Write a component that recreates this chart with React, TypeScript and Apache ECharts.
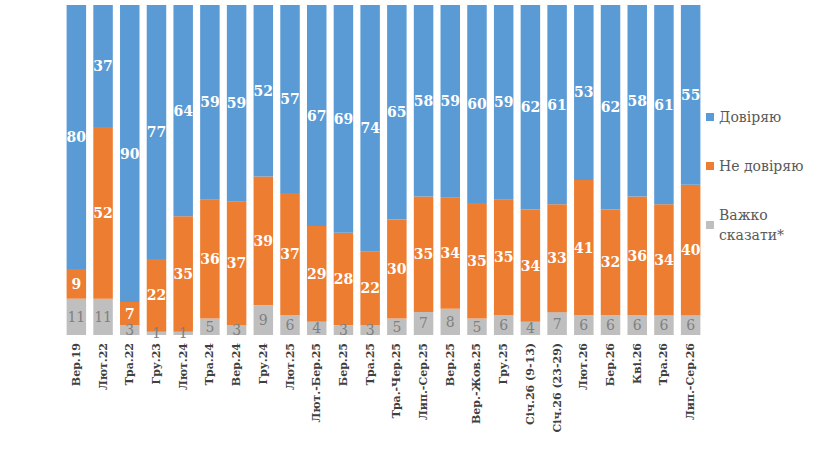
import * as echarts from 'echarts';
import { useEffect, useRef } from 'react';

const categories = [
  'Вер.19', 'Лют.22', 'Тра.22', 'Гру.23', 'Лют.24', 'Тра.24', 'Вер.24', 'Гру.24',
  'Лют.25', 'Лют.-Бер.25', 'Бер.25', 'Тра.25', 'Тра.-Чер.25', 'Лип.-Сер.25', 'Вер.25',
  'Вер.-Жов.25', 'Гру.25', 'Січ.26 (9-13)', 'Січ.26 (23-29)', 'Лют.26', 'Бер.26',
  'Кві.26', 'Тра.26', 'Лип.-Сер.26',
];

const hardToSay = [11, 11, 3, 1, 1, 5, 3, 9, 6, 4, 3, 3, 5, 7, 8, 5, 6, 4, 7, 6, 6, 6, 6, 6];
const distrust = [9, 52, 7, 22, 35, 36, 37, 39, 37, 29, 28, 22, 30, 35, 34, 35, 35, 34, 33, 41, 32, 36, 34, 40];
const trust = [80, 37, 90, 77, 64, 59, 59, 52, 57, 67, 69, 74, 65, 58, 59, 60, 59, 62, 61, 53, 62, 58, 61, 55];

const seriesNames = ['Важко сказати*', 'Не довіряю', 'Довіряю'];
const seriesColors = ['#BFBFBF', '#ED7D31', '#5B9BD5'];

const FONT = 'DejaVu Serif';

const App = () => {
  const chartRef = useRef(null);

  useEffect(() => {
    document.body.style.margin = '0';
    const chart = echarts.init(chartRef.current, null, { renderer: 'svg' });

    const raw = [hardToSay, distrust, trust];
    // 100% stacked: each column scaled to its own total
    const totals = categories.map((_, i) => raw.reduce((s, arr) => s + arr[i], 0));

    const series = raw.map((arr, k) => ({
      name: seriesNames[k],
      type: 'bar',
      stack: 'total',
      barCategoryGap: '27%',
      data: arr.map((v, i) => (v / totals[i]) * 100),
      itemStyle: { color: seriesColors[k] },
      label: {
        show: true,
        position: 'inside',
        formatter: (p: any) => String(arr[p.dataIndex]),
        fontFamily: FONT,
        fontSize: 14,
        fontWeight: k === 0 ? 'normal' : 'bold',
        color: k === 0 ? '#808080' : '#ffffff',
      },
    }));

    chart.setOption({
      animation: false,
      textStyle: { fontFamily: FONT },
      grid: { left: 63, right: 133, top: 5, bottom: 115 },
      xAxis: {
        type: 'category',
        data: categories,
        axisLine: { show: false },
        axisTick: { show: false },
        axisLabel: {
          rotate: 90,
          interval: 0,
          margin: 8,
          fontFamily: FONT,
          fontSize: 11,
          fontWeight: 'bold',
          color: '#404040',
        },
      },
      yAxis: {
        type: 'value',
        min: 0,
        max: 100,
        show: false,
        splitLine: { show: false },
      },
      legend: {
        orient: 'vertical',
        left: 706,
        top: 107,
        padding: 0,
        itemWidth: 8,
        itemHeight: 8,
        itemGap: 29,
        icon: 'rect',
        data: ['Довіряю', 'Не довіряю', 'Важко сказати*'],
        formatter: (name: string) => (name === 'Важко сказати*' ? 'Важко\nсказати*' : name),
        textStyle: {
          fontFamily: FONT,
          fontSize: 14,
          color: '#595959',
          lineHeight: 20,
        },
      },
      series,
    });

    return () => {
      chart.dispose();
    };
  }, []);

  return <div ref={chartRef} style={{ width: '837px', height: '450px' }} />;
};

export default App;
